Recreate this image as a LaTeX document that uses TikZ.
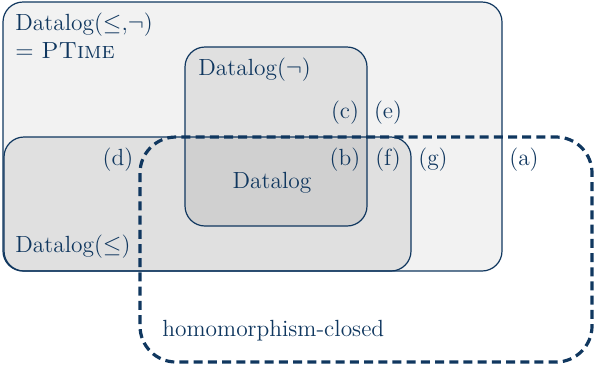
\documentclass[tikz,border=0pt]{standalone}
\usetikzlibrary{positioning}
\definecolor{navy}{RGB}{16,55,95}
\definecolor{lightgrey}{RGB}{242,242,242}
\definecolor{midgrey}{RGB}{224,224,224}
\definecolor{darkgrey}{RGB}{208,208,208}
\tikzset{
    region/.style={draw=navy, semithick, rounded corners=10pt},
    homclosed/.style={draw=navy, line width=1.6pt, dash pattern=on 4.5pt off 2.6pt, rounded corners=18pt},
    lbl/.style={text=navy, inner sep=0pt, font=\fontsize{11.7pt}{14pt}\selectfont},
}
\begin{document}
\begin{tikzpicture}[x=0.5pt, y=-0.5pt]%
        \useasboundingbox (0,0) rectangle (597,372);
        % regions
        \fill [lightgrey, rounded corners=10pt] (3,2) rectangle (502,271);
        \fill [midgrey, rounded corners=10pt] (4,137) rectangle (411,271);
        \fill [midgrey, rounded corners=10pt] (185,47) rectangle (367,226);
        \begin{scope}
            \clip [rounded corners=10pt] (4,137) rectangle (411,271);
            \fill [darkgrey, rounded corners=10pt] (185,47) rectangle (367,226);
        \end{scope}
        \draw [region] (3,2) rectangle (502,271);
        \draw [region] (4,137) rectangle (411,271);
        \draw [region] (185,47) rectangle (367,226);
        \draw [homclosed] (140,137) rectangle (592,362);
        % names
        \node [lbl, anchor=west, align=left] (ptime) at (15,36) {Datalog($\leq$,$\neg$)\\$=$ \textsc{PTime}};
        \node [lbl, anchor=west] (neg) at (198,70) {Datalog($\neg$)};
        \node [lbl] (plain) at (272,183) {Datalog};
        \node [lbl, anchor=west] (order) at (15,247) {Datalog($\leq$)};
        \node [lbl, anchor=west] (hom) at (162,331) {homomorphism-closed};
        % parts
        \foreach \name/\x/\y in {a/524/160, b/345/160, c/345/113, d/118/160, e/388/113, f/388/160, g/433/160} {
            \node [lbl] (part-\name) at (\x,\y) {(\name)};
        }
    \end{tikzpicture}
\end{document}
